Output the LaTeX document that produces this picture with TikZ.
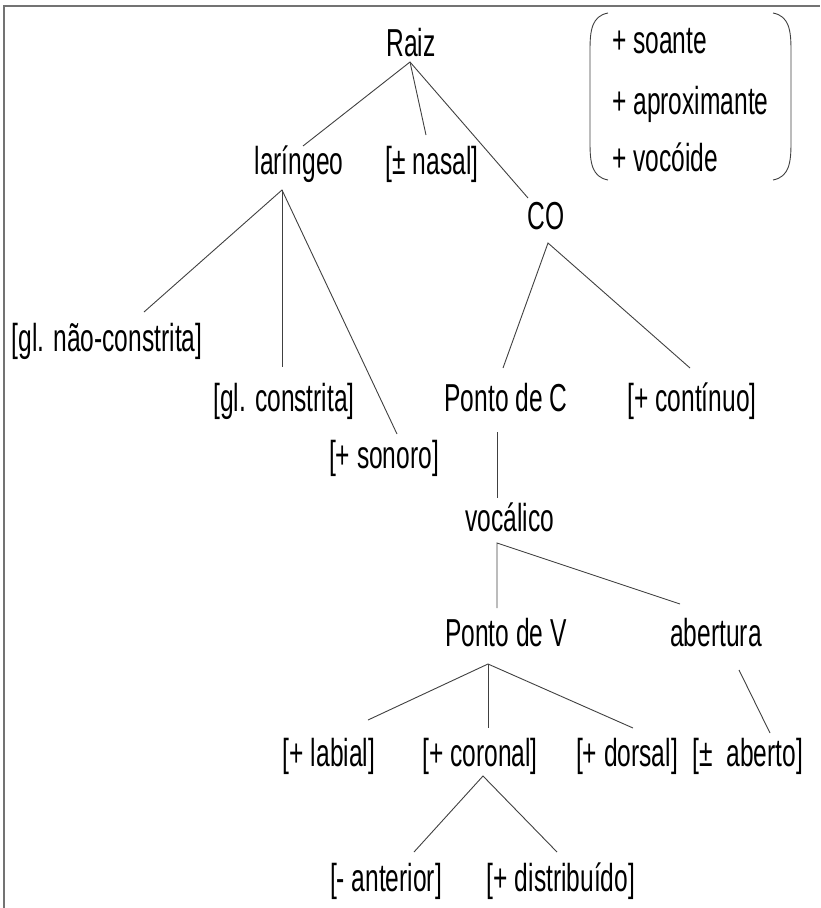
\documentclass[tikz,border=0pt]{standalone}
\usepackage{fontspec}
\setmainfont{Liberation Sans}[FakeStretch=0.63]
\begin{document}
\begin{tikzpicture}[x=1pt,y=-1pt,
  lbl/.style={anchor=base,inner sep=0pt,font=\fontsize{39}{44}\selectfont},
  lst/.style={anchor=base west,inner sep=0pt,font=\fontsize{39}{44}\selectfont},
  edge/.style={draw=black!75,line width=0.9pt},
  frame/.style={draw=black!55,line width=1.6pt}]
\useasboundingbox (0,0) rectangle (820,908);
% frame
\draw[frame] (4,908) -- (4,6) -- (820,6);
% nodes
\node[lbl] (raiz) at (411,56) {Raiz};
\node[lbl] (lar) at (299,174) {laríngeo};
\node[lbl] (nas) at (432,174) {[± nasal]};
\node[lbl] (co) at (546,229) {CO};
\node[lbl] (gnc) at (107,351) {[gl. não-constrita]};
\node[lbl] (gc) at (284,411) {[gl. constrita]};
\node[lbl] (son) at (384,468) {[+ sonoro]};
\node[lbl] (pc) at (506,411) {Ponto de C};
\node[lbl] (cont) at (692,411) {[+ contínuo]};
\node[lbl] (voc) at (510,531) {vocálico};
\node[lbl] (pv) at (506,646) {Ponto de V};
\node[lbl] (ab) at (716,646) {abertura};
\node[lbl] (lab) at (329,766) {[+ labial]};
\node[lbl] (cor) at (480,766) {[+ coronal]};
\node[lbl] (dor) at (627,766) {[+ dorsal]};
\node[lbl] (abt) at (748,766) {[±\, aberto]};
\node[lbl] (ant) at (386,891) {[- anterior]};
\node[lbl] (dis) at (561,891) {[+ distribuído]};
% feature list
\node[lst] (f1) at (612,53) {+ soante};
\node[lst] (f2) at (612,114) {+ aproximante};
\node[lst] (f3) at (612,171) {+ vocóide};
\draw[edge] (608,13) .. controls (592,16) and (590,30) .. (590,50) -- (590,143) .. controls (590,163) and (592,177) .. (608,180);
\draw[edge] (773,13) .. controls (789,16) and (791,30) .. (791,50) -- (791,143) .. controls (791,163) and (789,177) .. (773,180);
% connector end points
\coordinate (raizB) at (410,62);
\coordinate (larT) at (303,146);
\coordinate (nasT) at (426,135);
\coordinate (coT) at (528,198);
\coordinate (larB) at (282,190);
\coordinate (gncT) at (144,312);
\coordinate (gcT) at (282,367);
\coordinate (sonT) at (397,434);
\coordinate (coB) at (548,243);
\coordinate (pcT) at (503,368);
\coordinate (contT) at (690,368);
\coordinate (pcB) at (497,432);
\coordinate (vocT) at (497,498);
\coordinate (vocB) at (497,543);
\coordinate (pvT) at (497,608);
\coordinate (abT) at (680,604);
\coordinate (pvB) at (488,664);
\coordinate (labT) at (368,720);
\coordinate (corT) at (488,728);
\coordinate (dorT) at (633,728);
\coordinate (abB) at (739,670);
\coordinate (abtT) at (770,733);
\coordinate (corB) at (483,776);
\coordinate (antT) at (414,852);
\coordinate (disT) at (557,852);
% connectors
\draw[edge] (larT) -- (raizB) -- (coT);
\draw[edge] (raizB) -- (nasT);
\draw[edge] (gncT) -- (larB) -- (sonT);
\draw[edge] (larB) -- (gcT);
\draw[edge] (pcT) -- (coB) -- (contT);
\draw[edge] (pcB) -- (vocT);
\draw[edge] (pvT) -- (vocB) -- (abT);
\draw[edge] (labT) -- (pvB) -- (dorT);
\draw[edge] (pvB) -- (corT);
\draw[edge] (abB) -- (abtT);
\draw[edge] (antT) -- (corB) -- (disT);
\end{tikzpicture}
\end{document}
